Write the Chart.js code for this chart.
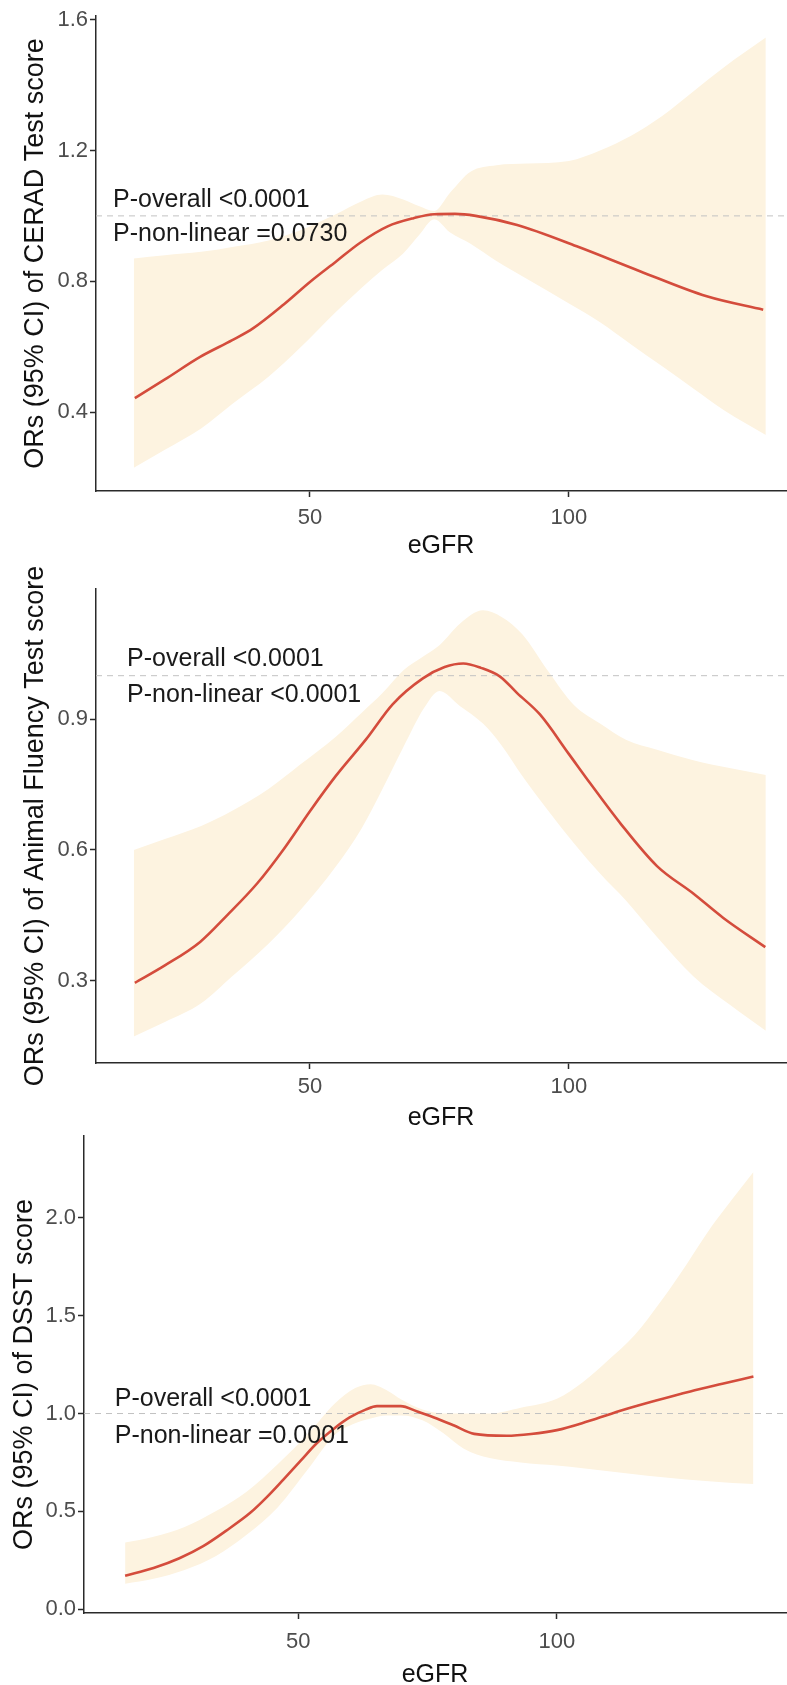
<!DOCTYPE html>
<html>
<head>
<meta charset="utf-8">
<script src="https://cdn.jsdelivr.net/npm/chart.js@4.4.0/dist/chart.umd.min.js"></script>
<style>
body { margin: 0; background: #fff; }
#wrap { position: relative; width: 787px; height: 1685px; overflow: hidden; }
canvas { position: absolute; left: 0; }
</style>
</head>
<body>
<div id="wrap">
<canvas id="c1" width="787" height="560" style="top:0px"></canvas>
<canvas id="c2" width="787" height="570" style="top:560px"></canvas>
<canvas id="c3" width="787" height="555" style="top:1130px"></canvas>
</div>
<script>
// x ticks shared by all three panels
var xTicks = [50, 100];

// panel 1 - CERAD
var lineX1 = [16.2, 22, 28.8, 35, 39, 45, 50, 55, 59.7, 65, 70, 74, 78, 82, 90, 101.5, 113.7, 126.6, 137.5];
var lineY1 = [0.443, 0.500, 0.569, 0.620, 0.656, 0.730, 0.798, 0.860, 0.918, 0.968, 0.993, 1.005, 1.006, 1.000, 0.972, 0.907, 0.831, 0.754, 0.713];
var bandX1 = [16, 22, 29, 35, 42, 48, 55, 60, 64, 68, 71, 74, 77, 81, 86, 92, 100, 106, 112, 118, 124, 130, 138];
var upper1 = [0.870, 0.880, 0.890, 0.905, 0.925, 0.955, 1.005, 1.045, 1.065, 1.050, 1.030, 1.015, 1.070, 1.135, 1.155, 1.160, 1.168, 1.200, 1.245, 1.305, 1.380, 1.455, 1.545];
var lower1 = [0.230, 0.285, 0.350, 0.425, 0.508, 0.595, 0.706, 0.780, 0.835, 0.885, 0.940, 0.990, 0.950, 0.915, 0.862, 0.806, 0.732, 0.675, 0.607, 0.540, 0.472, 0.405, 0.330];
var yTicks1 = [0.4, 0.8, 1.2, 1.6];

// panel 2 - Animal Fluency
var lineX2 = [16.2, 22, 28.8, 34, 39.8, 45, 50, 55, 60.9, 66, 71.8, 76, 79.6, 83, 86.7, 90, 94.4, 100, 104.1, 110, 117, 124, 129.8, 137.9];
var lineY2 = [0.295, 0.335, 0.389, 0.450, 0.523, 0.603, 0.689, 0.770, 0.855, 0.935, 0.994, 1.020, 1.028, 1.018, 0.998, 0.960, 0.911, 0.820, 0.753, 0.660, 0.563, 0.500, 0.444, 0.377];
var bandX2 = [16, 22, 29, 35, 42, 48, 55, 60, 64, 68, 72, 75, 79, 83.4, 87, 91, 96, 101, 106, 111, 117, 124, 131, 138];
var upper2 = [0.600, 0.625, 0.655, 0.690, 0.740, 0.795, 0.860, 0.915, 0.960, 1.012, 1.045, 1.070, 1.120, 1.150, 1.135, 1.095, 1.010, 0.932, 0.890, 0.853, 0.830, 0.806, 0.788, 0.772];
var lower2 = [0.172, 0.205, 0.248, 0.310, 0.385, 0.460, 0.562, 0.650, 0.740, 0.835, 0.925, 0.965, 0.930, 0.890, 0.840, 0.770, 0.690, 0.615, 0.546, 0.484, 0.400, 0.310, 0.245, 0.185];
var yTicks2 = [0.3, 0.6, 0.9];

// panel 3 - DSST
var lineX3 = [16.5, 22, 27, 31.6, 36, 40.7, 44, 47.1, 50.5, 53.6, 57, 60, 63, 65.2, 69.8, 73, 76.1, 80, 84, 90.3, 95, 100, 106, 112.9, 119, 125.8, 132, 138];
var lineY3 = [0.170, 0.210, 0.260, 0.322, 0.400, 0.492, 0.575, 0.662, 0.760, 0.849, 0.925, 0.981, 1.020, 1.038, 1.038, 1.010, 0.981, 0.940, 0.896, 0.886, 0.895, 0.915, 0.960, 1.019, 1.065, 1.113, 1.152, 1.189];
var bandX3 = [16.5, 22, 28, 34, 40, 46, 52, 57, 61, 64, 67, 70, 74, 78, 82, 87, 93, 100, 105, 110, 115, 120, 125, 130, 134, 138];
var upper3 = [0.340, 0.370, 0.420, 0.500, 0.600, 0.740, 0.900, 1.050, 1.130, 1.150, 1.120, 1.070, 1.020, 1.000, 1.000, 1.000, 1.030, 1.076, 1.160, 1.275, 1.400, 1.570, 1.760, 1.960, 2.100, 2.235];
var lower3 = [0.130, 0.155, 0.200, 0.270, 0.380, 0.520, 0.720, 0.890, 0.950, 0.975, 0.990, 0.990, 0.965, 0.900, 0.820, 0.772, 0.750, 0.734, 0.720, 0.705, 0.690, 0.675, 0.663, 0.652, 0.645, 0.640];
var yTicks3 = [0, 0.5, 1.0, 1.5, 2.0];

var FONT = '"Liberation Sans", Arial, sans-serif';
var RED = 'rgb(212,76,60)';
var BAND = 'rgb(253,243,224)';
var AXIS = '#2a2a2a';
var TICK = '#4d4d4d';

function pts(xs, ys) {
  var out = [];
  for (var i in xs) out.push({x: xs[i], y: ys[i]});
  return out;
}

// P-value labels, anchored on the chart's own scales
var pText = {
  id: 'pText',
  afterDatasetsDraw: function(chart, args, opts) {
    var ctx = chart.ctx, xs = chart.scales.x, ys = chart.scales.y;
    ctx.save();
    ctx.font = '25px ' + FONT;
    ctx.fillStyle = '#1a1a1a';
    ctx.textAlign = 'left';
    ctx.textBaseline = 'middle';
    opts.lines.forEach(function(l) {
      ctx.fillText(l.text, xs.getPixelForValue(opts.x), ys.getPixelForValue(l.y));
    });
    ctx.restore();
  }
};

function makePanel(id, o) {
  return new Chart(document.getElementById(id), {
    type: 'line',
    data: {
      datasets: [
        { data: pts(o.lineX, o.lineY), borderColor: RED, borderWidth: 2.6, fill: false, cubicInterpolationMode: 'monotone' },
        { data: [{x: o.xMin, y: 1}, {x: o.xMax, y: 1}], borderColor: '#c2c2c2', borderWidth: 1, borderDash: [6, 5], fill: false },
        { data: pts(o.bandX, o.upper), borderWidth: 0, borderColor: 'rgba(0,0,0,0)', backgroundColor: BAND, fill: '+1', cubicInterpolationMode: 'monotone' },
        { data: pts(o.bandX, o.lower), borderWidth: 0, borderColor: 'rgba(0,0,0,0)', fill: false, cubicInterpolationMode: 'monotone' }
      ]
    },
    options: {
      responsive: false,
      animation: false,
      devicePixelRatio: 1,
      layout: { padding: { top: o.top, right: 1, bottom: 0, left: 0 } },
      elements: { point: { radius: 0 } },
      plugins: {
        legend: { display: false },
        tooltip: { enabled: false },
        pText: { x: o.textX, lines: o.texts }
      },
      scales: {
        x: {
          type: 'linear', min: o.xMin, max: o.xMax,
          afterBuildTicks: function(s) { s.ticks = xTicks.map(function(v) { return {value: v}; }); },
          afterFit: function(s) { s.height = o.xBox; s.paddingLeft = 0; s.paddingRight = 0; },
          grid: { drawOnChartArea: false, drawTicks: true, tickLength: 6, tickColor: AXIS, tickWidth: 1.5 },
          border: { display: true, color: AXIS, width: 1.5 },
          ticks: { color: TICK, font: { size: 22, family: FONT }, padding: o.xTickPad, maxRotation: 0 },
          title: { display: true, text: 'eGFR', color: '#111', font: { size: 25, family: FONT }, padding: { top: 0, bottom: o.xTitlePad } }
        },
        y: {
          type: 'linear', min: o.yMin, max: o.yMax,
          afterBuildTicks: function(s) { s.ticks = o.yTicks.map(function(v) { return {value: v}; }); },
          afterFit: function(s) { s.width = o.yBox; s.paddingTop = 0; s.paddingBottom = 0; },
          grid: { drawOnChartArea: false, drawTicks: true, tickLength: 6, tickColor: AXIS, tickWidth: 1.5 },
          border: { display: true, color: AXIS, width: 1.5 },
          ticks: { color: TICK, font: { size: 22, family: FONT }, padding: 2, callback: function(v) { return v.toFixed(1); } },
          title: { display: true, text: o.yTitle, color: '#111', font: { size: 27, family: FONT }, padding: { top: o.yTitlePad, bottom: 0 } }
        }
      }
    },
    plugins: [pText]
  });
}

makePanel('c1', {
  lineX: lineX1, lineY: lineY1, bandX: bandX1, upper: upper1, lower: lower1, yTicks: yTicks1,
  xMin: 8.7, xMax: 141.9, yMin: 0.159, yMax: 1.611,
  top: 16, xBox: 69, yBox: 96, xTickPad: 8, xTitlePad: -1, yTitlePad: 19,
  yTitle: 'ORs (95% CI) of CERAD Test score',
  textX: 12.0, texts: [{text: 'P-overall <0.0001', y: 1.047}, {text: 'P-non-linear =0.0730', y: 0.944}]
});

makePanel('c2', {
  lineX: lineX2, lineY: lineY2, bandX: bandX2, upper: upper2, lower: lower2, yTicks: yTicks2,
  xMin: 8.7, xMax: 141.9, yMin: 0.111, yMax: 1.199,
  top: 29, xBox: 67, yBox: 96, xTickPad: 5, xTitlePad: -3, yTitlePad: 19,
  yTitle: 'ORs (95% CI) of Animal Fluency Test score',
  textX: 14.7, texts: [{text: 'P-overall <0.0001', y: 1.038}, {text: 'P-non-linear <0.0001', y: 0.956}]
});

makePanel('c3', {
  lineX: lineX3, lineY: lineY3, bandX: bandX3, upper: upper3, lower: lower3, yTicks: yTicks3,
  xMin: 8.55, xMax: 144.3, yMin: -0.02, yMax: 2.419,
  top: 6, xBox: 72, yBox: 84, xTickPad: 10, xTitlePad: -5, yTitlePad: 8,
  yTitle: 'ORs (95% CI) of DSST score',
  textX: 14.5, texts: [{text: 'P-overall <0.0001', y: 1.072}, {text: 'P-non-linear =0.0001', y: 0.887}]
});
</script>
</body>
</html>
